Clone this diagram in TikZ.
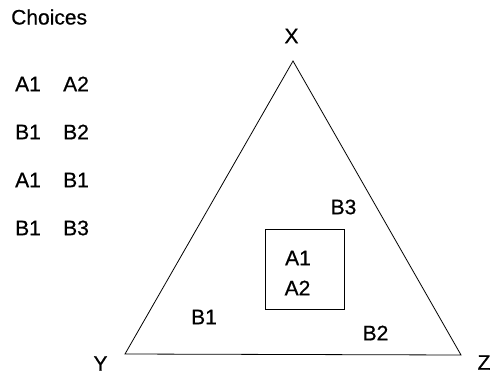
\documentclass[tikz,border=0pt]{standalone}
\usepackage{fontspec}
\setmainfont{Liberation Sans}
\newfontfamily\lblfont[FakeBold=0.6]{Liberation Sans}
\begin{document}
\begin{tikzpicture}[x=1pt,y=-1pt,
  lbl/.style={inner sep=0pt,font=\lblfont\fontsize{21}{25}\selectfont},
  edge/.style={line width=0.8pt}]
\useasboundingbox (0,0) rectangle (497,374);
% choices list
\node[lbl,anchor=west] (ch) at (11,17) {Choices};
\node[lbl,anchor=west] (c1a) at (15,84) {A1};
\node[lbl,anchor=west] (c1b) at (63,84) {A2};
\node[lbl,anchor=west] (c2a) at (15,132) {B1};
\node[lbl,anchor=west] (c2b) at (63,132) {B2};
\node[lbl,anchor=west] (c3a) at (15,180) {A1};
\node[lbl,anchor=west] (c3b) at (63,180) {B1};
\node[lbl,anchor=west] (c4a) at (15,228) {B1};
\node[lbl,anchor=west] (c4b) at (63,228) {B3};
% triangle
\coordinate (vx) at (293,61);
\coordinate (vy) at (125,354);
\coordinate (vz) at (461,355);
\draw[edge,line join=miter] (vx) -- (vy) -- (vz) -- cycle;
\node[lbl] (lx) at (291.5,36) {X};
\node[lbl] (ly) at (100.5,363.5) {Y};
\node[lbl] (lz) at (484,362.5) {Z};
% inner box
\draw[edge] (265,229) rectangle (344,309);
\node[lbl] (a1) at (298,258) {A1};
\node[lbl] (a2) at (297.5,288) {A2};
\node[lbl] (b3) at (343.5,207) {B3};
\node[lbl] (b1) at (204,317) {B1};
\node[lbl] (b2) at (375.5,333) {B2};
\end{tikzpicture}
\end{document}
